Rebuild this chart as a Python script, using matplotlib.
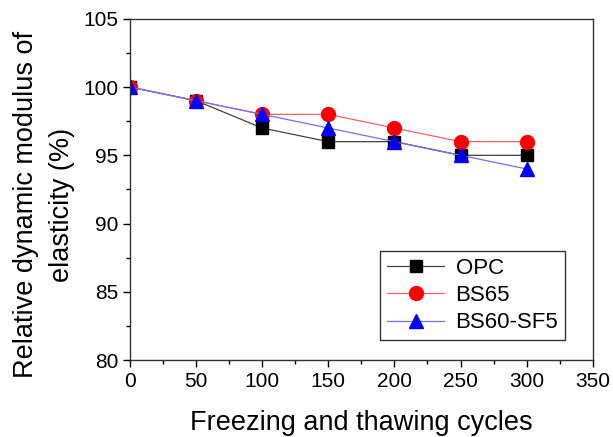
import matplotlib.pyplot as plt
import numpy as np
from matplotlib.ticker import MultipleLocator

plt.rcParams['font.family'] = ['Liberation Sans', 'DejaVu Sans']

cycles = [0, 50, 100, 150, 200, 250, 300]
opc = [100, 99, 97, 96, 96, 95, 95]
bs65 = [100, 99, 98, 98, 97, 96, 96]
bs60_sf5 = [100, 99, 98, 97, 96, 95, 94]

fig = plt.figure(figsize=(6.13, 4.37), dpi=100)
ax = fig.add_axes([0.212, 0.176, 0.755, 0.781])

ax.plot(cycles, opc, color='#404040', lw=0.9, marker='s', ms=9,
        mfc='black', mec='black', label='OPC')
ax.plot(cycles, bs65, color='#ff6060', lw=0.9, marker='o', ms=10,
        mfc='red', mec='red', label='BS65')
ax.plot(cycles, bs60_sf5, color='#7070ff', lw=0.9, marker='^', ms=10,
        mfc='blue', mec='blue', label='BS60-SF5')

ax.set_xlim(0, 350)
ax.set_ylim(80, 105)
ax.xaxis.set_major_locator(MultipleLocator(50))
ax.xaxis.set_minor_locator(MultipleLocator(25))
ax.yaxis.set_major_locator(MultipleLocator(5))
ax.yaxis.set_minor_locator(MultipleLocator(2.5))
ax.tick_params(which='both', direction='out', top=False, right=False, labelsize=15)
ax.tick_params(which='major', length=5, width=1)
ax.tick_params(which='minor', length=3, width=1)
for s in ax.spines.values():
    s.set_linewidth(1)
    s.set_color('#333333')

ax.set_xlabel('Freezing and thawing cycles', fontsize=19.5, labelpad=14)
ax.set_ylabel('Relative dynamic modulus of\nelasticity (%)', fontsize=19.5,
              linespacing=1.5)
ax.yaxis.set_label_coords(-0.118, 0.455)

leg = ax.legend(loc='lower right', bbox_to_anchor=(0.94, 0.059), borderaxespad=0,
                fontsize=16, fancybox=False, edgecolor='#333333', framealpha=1,
                handlelength=2.6, handletextpad=0.5, borderpad=0.3, labelspacing=0.28)
leg.get_frame().set_linewidth(1)

fig.savefig('out.png', dpi=100)
